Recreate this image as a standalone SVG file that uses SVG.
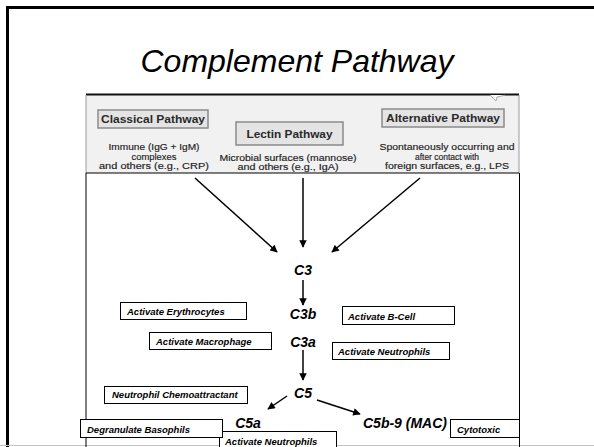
<svg xmlns="http://www.w3.org/2000/svg" width="594" height="447" viewBox="0 0 594 447">
  <style>
    .title { font-family: "Liberation Sans", Arial, sans-serif; font-style: italic; font-size: 32px; fill: #000; }
    .pw { font-family: "Liberation Sans", Arial, sans-serif; font-weight: bold; font-size: 10.5px; fill: #2a2a2a; }
    .sub { font-family: "Liberation Sans", Arial, sans-serif; font-size: 8.5px; fill: #222; stroke: #222; stroke-width: 0.15; }
    .pwbox { fill: #e4e4e4; stroke: #8a8a8a; stroke-width: 1.5; }
    .comp { font-family: "Liberation Sans", Arial, sans-serif; font-weight: bold; font-style: italic; font-size: 14px; fill: #000; }
    .lbl { fill: #fff; stroke: #000; stroke-width: 1; }
    .lbltxt { font-family: "Liberation Sans", Arial, sans-serif; font-weight: bold; font-style: italic; font-size: 9.5px; fill: #000; }
    .conn { stroke: #000; stroke-width: 1.5; fill: none; marker-end: url(#arrow); }
  </style>
  <defs>
    <marker id="arrow" viewBox="0 0 10 10" refX="9" refY="5" markerWidth="5.5" markerHeight="5" orient="auto" markerUnits="strokeWidth">
      <path d="M0,0 L10,5 L0,10 z" fill="#000"/>
    </marker>
  </defs>

  <!-- slide background and frame -->
  <rect width="594" height="447" fill="#fff"/>
  <path d="M7.5,447 V7.5 H600" fill="none" stroke="#000" stroke-width="3"/>
  <line x1="0" y1="445.5" x2="594" y2="445.5" stroke="#c4c4c4" stroke-width="1"/>

  <text class="title" x="297" y="72" text-anchor="middle">Complement Pathway</text>

  <!-- figure panel: shaded header strip and white body -->
  <g id="panel">
    <rect x="86" y="95" width="433" height="78" fill="#f1f1f1"/>
    <line x1="86" y1="94.5" x2="519" y2="94.5" stroke="#111" stroke-width="2"/>
    <line x1="86" y1="95" x2="86" y2="173" stroke="#9a9a9a" stroke-width="1"/>
    <line x1="519" y1="95" x2="519" y2="173" stroke="#9a9a9a" stroke-width="1"/>
    <path d="M490,95 Q494,99 496,101 L497,97 Q502,96 505,95" fill="#fff" stroke="#999" stroke-width="0.8"/>
    <line x1="86" y1="173" x2="519" y2="173" stroke="#000" stroke-width="1"/>
    <line x1="86" y1="173" x2="86" y2="447" stroke="#000" stroke-width="1"/>
    <line x1="519.5" y1="173" x2="519.5" y2="447" stroke="#000" stroke-width="1"/>
  </g>

  <g id="classical">
    <rect class="pwbox" x="98" y="110" width="110" height="18"/>
    <text class="pw" x="153" y="123" text-anchor="middle" textLength="104" lengthAdjust="spacingAndGlyphs">Classical Pathway</text>
    <text class="sub" x="154" y="150" text-anchor="middle" textLength="91" lengthAdjust="spacingAndGlyphs">Immune (IgG + IgM)</text>
    <text class="sub" x="154" y="159.5" text-anchor="middle" textLength="45" lengthAdjust="spacingAndGlyphs">complexes</text>
    <text class="sub" x="154" y="169" text-anchor="middle" textLength="110" lengthAdjust="spacingAndGlyphs">and others (e.g., CRP)</text>
  </g>

  <g id="lectin">
    <rect class="pwbox" x="236" y="122" width="107" height="23"/>
    <text class="pw" x="289.5" y="137.5" text-anchor="middle" textLength="86" lengthAdjust="spacingAndGlyphs">Lectin Pathway</text>
    <text class="sub" x="288" y="161" text-anchor="middle" textLength="137" lengthAdjust="spacingAndGlyphs">Microbial surfaces (mannose)</text>
    <text class="sub" x="288" y="169.5" text-anchor="middle" textLength="101" lengthAdjust="spacingAndGlyphs">and others (e.g., IgA)</text>
  </g>

  <g id="alternative">
    <rect class="pwbox" x="382" y="109" width="122" height="18"/>
    <text class="pw" x="443" y="122" text-anchor="middle" textLength="114" lengthAdjust="spacingAndGlyphs">Alternative Pathway</text>
    <text class="sub" x="447" y="150" text-anchor="middle" textLength="135" lengthAdjust="spacingAndGlyphs">Spontaneously occurring and</text>
    <text class="sub" x="447" y="159.5" text-anchor="middle" textLength="64" lengthAdjust="spacingAndGlyphs">after contact with</text>
    <text class="sub" x="447" y="169" text-anchor="middle" textLength="124" lengthAdjust="spacingAndGlyphs">foreign surfaces, e.g., LPS</text>
  </g>

  <!-- connectors -->
  <g id="connectors">
    <line class="conn" x1="195" y1="178" x2="277" y2="252"/>
    <line class="conn" x1="303" y1="178" x2="303" y2="247"/>
    <line class="conn" x1="420" y1="178" x2="332" y2="252"/>
    <line class="conn" x1="303" y1="280" x2="303" y2="305"/>
    <line class="conn" x1="303" y1="350" x2="303" y2="380"/>
    <line class="conn" x1="287" y1="396" x2="268" y2="409"/>
    <line class="conn" x1="317" y1="400" x2="360" y2="414"/>
  </g>

  <!-- complement components -->
  <g id="c3"><text class="comp" x="303" y="275" text-anchor="middle">C3</text></g>
  <g id="c3b"><text class="comp" x="303" y="319" text-anchor="middle">C3b</text></g>
  <g id="c3a"><text class="comp" x="303" y="347" text-anchor="middle">C3a</text></g>
  <g id="c5"><text class="comp" x="303" y="398" text-anchor="middle">C5</text></g>
  <g id="c5a"><text class="comp" x="248" y="428" text-anchor="middle">C5a</text></g>
  <g id="c5b9"><text class="comp" x="363" y="428">C5b-9 (MAC)</text></g>

  <!-- effect labels -->
  <g id="erythrocytes">
    <rect class="lbl" x="120.5" y="302.5" width="126" height="17"/>
    <text class="lbltxt" x="127" y="315">Activate Erythrocytes</text>
  </g>
  <g id="bcell">
    <rect class="lbl" x="342.5" y="306.5" width="112" height="18"/>
    <text class="lbltxt" x="348" y="320">Activate B-Cell</text>
  </g>
  <g id="macrophage">
    <rect class="lbl" x="149.5" y="332.5" width="122" height="17"/>
    <text class="lbltxt" x="156" y="344.5">Activate Macrophage</text>
  </g>
  <g id="neutrophils1">
    <rect class="lbl" x="332.5" y="342.5" width="117" height="17"/>
    <text class="lbltxt" x="338" y="354.5">Activate Neutrophils</text>
  </g>
  <g id="chemoattractant">
    <rect class="lbl" x="104.5" y="386.5" width="143" height="17"/>
    <text class="lbltxt" x="112" y="398">Neutrophil Chemoattractant</text>
  </g>
  <g id="neutrophils2">
    <rect class="lbl" x="219.5" y="431.5" width="117" height="20"/>
    <text class="lbltxt" x="225" y="445">Activate Neutrophils</text>
  </g>
  <g id="basophils">
    <rect class="lbl" x="80.5" y="419.5" width="142" height="18"/>
    <text class="lbltxt" x="87" y="433">Degranulate Basophils</text>
  </g>
  <g id="cytotoxic">
    <rect class="lbl" x="450.5" y="419.5" width="69" height="18"/>
    <text class="lbltxt" x="457" y="433">Cytotoxic</text>
  </g>
</svg>
